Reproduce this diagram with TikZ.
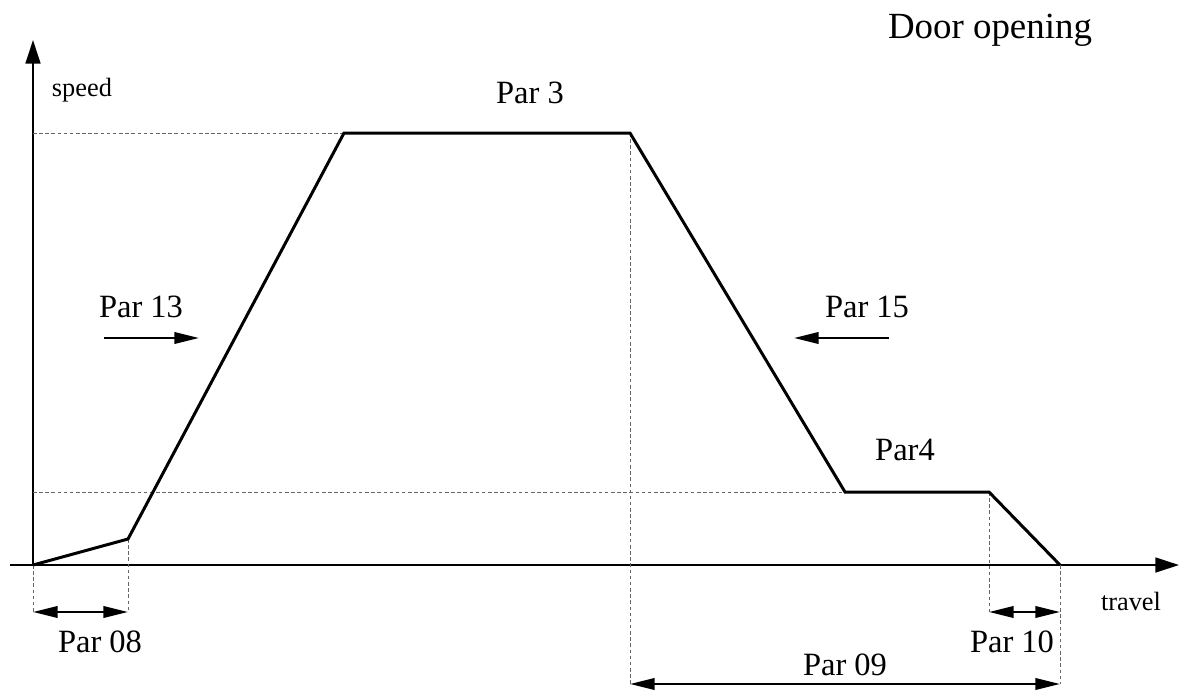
\documentclass[tikz,border=0pt]{standalone}
\usepackage{fontspec}
\setmainfont{Liberation Serif}
\usetikzlibrary{arrows.meta,positioning}

\tikzset{
  profile/.style={line width=1.7pt, line join=miter},
  axis/.style={line width=1.1pt, -{Triangle[length=13.5pt,width=8.5pt]}},
  guide/.style={gray!80!black, line width=0.45pt, dash pattern=on 2pt off 1.5pt},
  dimarrow/.style={line width=1.3pt, {Triangle[length=14pt,width=6.5pt]}-{Triangle[length=14pt,width=6.5pt]}},
  dirarrow/.style={line width=1.3pt, -{Triangle[length=14pt,width=6.5pt]}},
  parlabel/.style={font=\fontsize{18.5}{20}\selectfont, inner sep=0pt},
  axislabel/.style={font=\fontsize{15}{17}\selectfont, inner sep=0pt}
}

\begin{document}
\begin{tikzpicture}[x=0.02cm, y=-0.02cm]
  \useasboundingbox (0,0) rectangle (1181,691);

  % corner points of the speed profile
  \coordinate (o) at (33,565);
  \coordinate (creep) at (128,539);
  \coordinate (topl) at (344,133);
  \coordinate (topr) at (630,133);
  \coordinate (lowl) at (845,492);
  \coordinate (lowr) at (989,492);
  \coordinate (stop) at (1060,565);

  % axes
  \coordinate (ytip) at (33,40);
  \coordinate (xstart) at (10,565);
  \coordinate (xtip) at (1179,565);
  \draw[axis] (o) -- (ytip);
  \draw[axis] (xstart) -- (xtip);

  % guide lines
  \coordinate (d08a) at (33,612);
  \coordinate (d08b) at (128,612);
  \coordinate (d10a) at (989,612);
  \coordinate (d10b) at (1060,612);
  \coordinate (d09a) at (630,684);
  \coordinate (d09b) at (1060,684);
  \draw[guide] (o |- topl) -- (topl);
  \draw[guide] (o |- lowl) -- (lowl);
  \draw[guide] (o) -- (d08a);
  \draw[guide] (creep) -- (d08b);
  \draw[guide] (topr) -- (d09a);
  \draw[guide] (lowr) -- (d10a);
  \draw[guide] (stop) -- (d09b);

  % profile
  \draw[profile] (o) -- (creep) -- (topl) -- (topr) -- (lowl) -- (lowr) -- (stop);

  % dimensions
  \draw[dimarrow] (d08a) -- (d08b);
  \draw[dimarrow] (d10a) -- (d10b);
  \draw[dimarrow] (d09a) -- (d09b);

  \coordinate (a13s) at (104,338);
  \coordinate (a13e) at (199,338);
  \coordinate (a15s) at (889,338);
  \coordinate (a15e) at (794,338);
  \draw[dirarrow] (a13s) -- (a13e);
  \draw[dirarrow] (a15s) -- (a15e);

  % labels
  \node[font=\fontsize{21}{23}\selectfont, inner sep=0pt] (title) at (990,30) {Door opening};
  \node[axislabel] (speed) at (82,90) {speed};
  \node[axislabel] (travel) at (1131,601) {travel};
  \node[parlabel] (p3) at (530,93) {Par 3};
  \node[parlabel] (p13) at (141,307) {Par 13};
  \node[parlabel] (p15) at (867,307) {Par 15};
  \node[parlabel] (p4) at (905,450) {Par4};
  \node[parlabel] (p08) at (100,642) {Par 08};
  \node[parlabel] (p10) at (1012,642) {Par 10};
  \node[parlabel] (p09) at (845,665) {Par 09};
\end{tikzpicture}
\end{document}
